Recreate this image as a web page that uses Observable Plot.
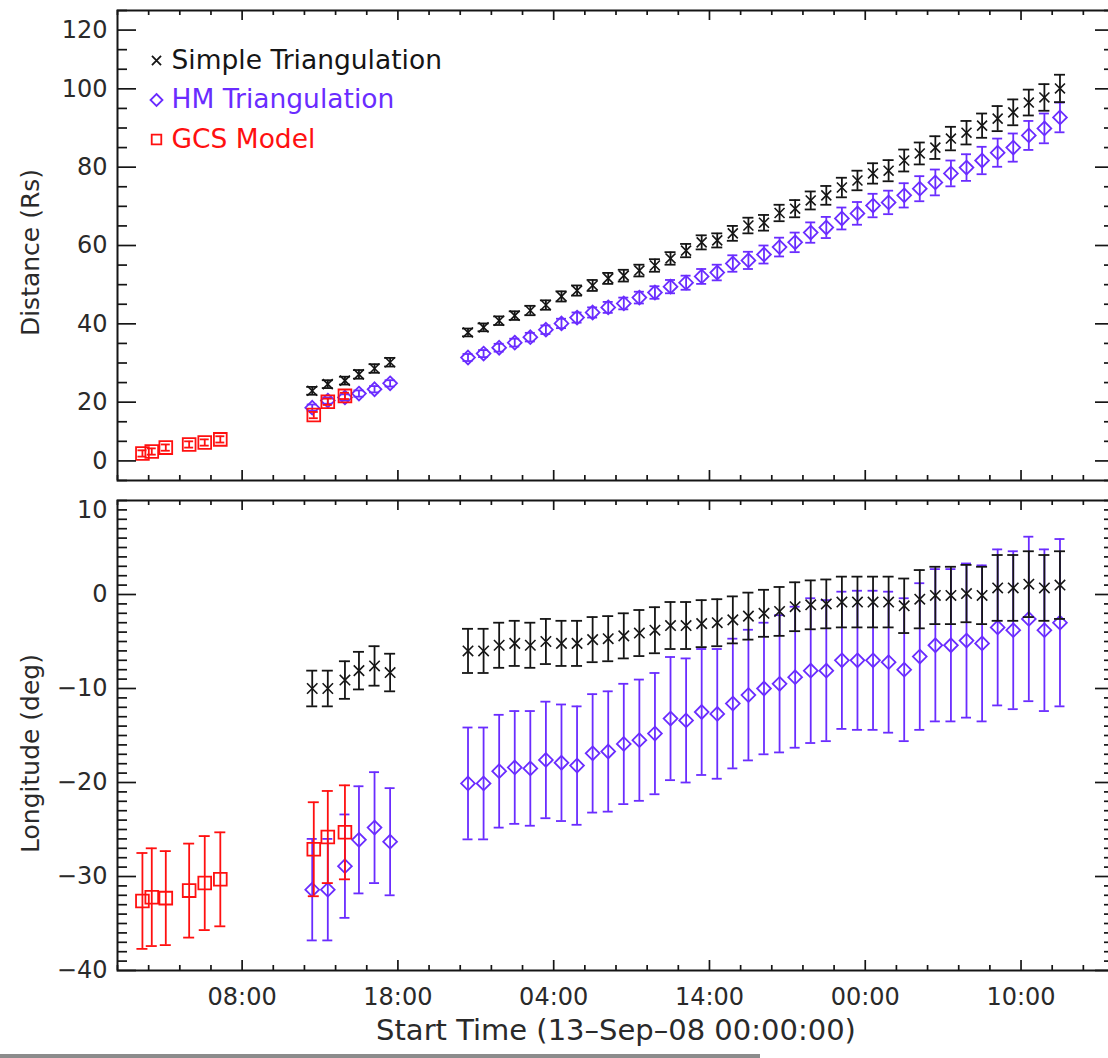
<!DOCTYPE html>
<html>
<head>
<meta charset="utf-8">
<script src="https://cdn.jsdelivr.net/npm/d3@7"></script>
<script src="https://cdn.jsdelivr.net/npm/@observablehq/plot@0.6"></script>
<style>
  html, body { margin: 0; padding: 0; background: #fff; overflow: hidden; width: 1108px; height: 1058px; }
  #chart { position: relative; }
  #chart svg { display: block; }
  #edge { position: absolute; left: 0; top: 1054px; width: 760px; height: 4px; background: #8c8c8c; }
</style>
</head>
<body>
<div id="chart"></div>
<div id="edge"></div>
<script>
// ---------------- DATA (hours after 13-Sep-08 00:00:00) ----------------
const gcsTime    = [1.6, 2.2, 3.1, 4.6, 5.6, 6.6, 12.6, 13.5, 14.6];
const gcsDist    = [6.9, 7.4, 8.4, 9.2, 9.7, 10.5, 16.7, 20.1, 21.6];
const gcsDistErr = [0.8, 0.8, 0.8, 0.8, 0.8, 0.8, 0.8, 0.8, 0.8];
const gcsLon     = [-32.6, -32.2, -32.3, -31.5, -30.7, -30.3, -27.1, -25.8, -25.3];
const gcsLonErr  = [5.1, 5.2, 5.0, 5.0, 5.0, 5.0, 5.0, 4.9, 5.0];

const triTime = [12.5, 13.5, 14.6, 15.5, 16.5, 17.5,
  22.5, 23.5, 24.5, 25.5, 26.5, 27.5, 28.5, 29.5, 30.5, 31.5,
  32.5, 33.5, 34.5, 35.5, 36.5, 37.5, 38.5, 39.5, 40.5, 41.5,
  42.5, 43.5, 44.5, 45.5, 46.5, 47.5, 48.5, 49.5, 50.5, 51.5,
  52.5, 53.5, 54.5, 55.5, 56.5, 57.5, 58.5, 59.5, 60.5];

const simpleDist = [22.9, 24.6, 25.5, 27.1, 28.6, 30.2,
  37.8, 39.1, 40.8, 42.1, 43.4, 44.8, 47.0, 48.5, 49.8, 51.6,
  52.3, 53.6, 54.9, 56.7, 58.7, 60.8, 61.3, 63.1, 65.1, 65.8,
  68.3, 69.4, 71.5, 72.8, 74.8, 76.6, 78.4, 79.1, 81.7, 83.5,
  85.0, 87.3, 88.8, 90.6, 92.4, 94.0, 96.5, 97.8, 100.1];
const simpleDistErr = [1.0, 1.0, 1.0, 1.1, 1.1, 1.1,
  1.0, 1.0, 1.1, 1.1, 1.2, 1.2, 1.3, 1.3, 1.4, 1.4,
  1.5, 1.5, 1.6, 1.6, 1.7, 1.8, 1.8, 1.9, 2.0, 2.0,
  2.1, 2.2, 2.3, 2.4, 2.5, 2.5, 2.6, 2.7, 2.8, 2.8,
  2.9, 3.0, 3.0, 3.1, 3.2, 3.3, 3.3, 3.4, 3.5];

const hmDist = [18.6, 20.4, 21.2, 22.2, 23.3, 24.8,
  31.4, 32.4, 33.9, 35.2, 36.6, 38.5, 40.1, 41.6, 42.9, 44.2,
  45.2, 46.7, 48.0, 49.5, 50.5, 52.1, 53.1, 55.4, 56.2, 57.7,
  59.6, 60.8, 63.3, 64.6, 66.9, 68.2, 70.2, 71.0, 72.8, 74.5,
  76.1, 78.4, 79.9, 81.7, 83.7, 85.0, 88.1, 89.9, 92.7];
const hmDistErr = [0.8, 0.8, 0.8, 0.8, 0.8, 0.8,
  0.9, 0.9, 1.0, 1.0, 1.1, 1.1, 1.2, 1.3, 1.3, 1.4,
  1.5, 1.5, 1.6, 1.7, 1.8, 1.9, 2.0, 2.1, 2.2, 2.3,
  2.4, 2.5, 2.6, 2.7, 2.8, 2.9, 3.0, 3.0, 3.1, 3.2,
  3.3, 3.3, 3.4, 3.5, 3.6, 3.6, 3.7, 3.8, 3.8];

const simpleLon = [-10.0, -10.0, -9.1, -8.1, -7.6, -8.3,
  -6.0, -6.0, -5.4, -5.2, -5.4, -5.0, -5.2, -5.2, -4.8, -4.7,
  -4.4, -4.1, -3.8, -3.3, -3.3, -3.1, -3.0, -2.7, -2.3, -2.0,
  -1.8, -1.3, -1.1, -1.0, -0.8, -0.8, -0.8, -0.8, -1.2, -0.5,
  -0.1, -0.1, 0.1, -0.1, 0.7, 0.7, 1.1, 0.7, 1.0];
const simpleLonErr = [1.9, 1.9, 2.0, 2.0, 2.1, 2.0,
  2.35, 2.35, 2.4, 2.4, 2.4, 2.4, 2.4, 2.4, 2.4, 2.4,
  2.4, 2.45, 2.45, 2.5, 2.5, 2.5, 2.5, 2.5, 2.5, 2.5,
  2.6, 2.6, 2.6, 2.6, 2.7, 2.7, 2.7, 2.7, 2.9, 3.1,
  3.05, 3.05, 3.05, 3.05, 3.5, 3.5, 3.5, 3.5, 3.6];

const hmLon = [-31.4, -31.4, -28.9, -26.1, -24.8, -26.3,
  -20.1, -20.1, -18.8, -18.4, -18.5, -17.6, -17.9, -18.2, -16.9, -16.7,
  -15.9, -15.5, -14.8, -13.2, -13.4, -12.5, -12.7, -11.6, -10.7, -10.0,
  -9.5, -8.8, -8.1, -8.1, -7.0, -7.0, -7.0, -7.2, -8.0, -6.6,
  -5.4, -5.4, -4.9, -5.2, -3.5, -3.8, -2.6, -3.8, -3.0];
const hmLonErr = [5.4, 5.4, 5.5, 5.7, 5.9, 5.7,
  5.95, 5.95, 6.0, 6.0, 6.1, 6.2, 6.2, 6.3, 6.3, 6.4,
  6.4, 6.45, 6.45, 6.55, 6.6, 6.7, 6.9, 6.9, 6.95, 7.0,
  7.3, 7.5, 7.7, 7.5, 7.3, 7.4, 7.4, 7.5, 7.6, 7.8,
  8.1, 8.1, 8.2, 8.3, 8.3, 8.4, 8.75, 8.6, 8.9];

// tick labels
const xTickValues = [8, 18, 28, 38, 48, 58];
const xTickLabels = ["08:00", "18:00", "04:00", "14:00", "00:00", "10:00"];
const distTickValues = [5, 20, 40, 60, 80, 100, 115];
const distTickLabels = ["0", "20", "40", "60", "80", "100", "120"];
const lonTickValues = [9, 0, -10, -20, -30, -40];
const lonTickLabels = ["10", "0", "\u221210", "\u221220", "\u221230", "\u221240"];

const legendLabels = ["Simple Triangulation", "HM Triangulation", "GCS Model"];
const xTitle = "Start Time (13\u2013Sep\u201308 00:00:00)";
const distTitle = "Distance (Rs)";
const lonTitle = "Longitude (deg)";

// ---------------- STYLE / LAYOUT ----------------
const BLACK = "#151515", BLUE = "#6a2cff", RED = "#ff1010";
const TEXT = "#2a2a2a";
const FONT = "DejaVu Sans, sans-serif";
const W = 1108, ML = 117, MR = -6;   // right frame edge falls just outside the picture
const X_DOMAIN = [0, 64];
const KX = (W - ML - MR) / (X_DOMAIN[1] - X_DOMAIN[0]); // px per hour
const X_MINOR = d3.range(0, 65, 2).filter(v => !xTickValues.includes(v));

const gcs = gcsTime.map((t, i) => ({t, d: gcsDist[i], de: gcsDistErr[i], l: gcsLon[i], le: gcsLonErr[i]}));
const tri = triTime.map((t, i) => ({
  t, sd: simpleDist[i], sde: simpleDistErr[i], hd: hmDist[i], hde: hmDistErr[i],
  sl: simpleLon[i], sle: simpleLonErr[i], hl: hmLon[i], hle: hmLonErr[i]
}));

function errbars(data, y, e, color, capPx, sw = 1.8) {
  const c = capPx / KX;
  return [
    Plot.ruleX(data, {x: "t", y1: d => d[y] - d[e], y2: d => d[y] + d[e], stroke: color, strokeWidth: sw}),
    Plot.ruleY(data, {y: d => d[y] - d[e], x1: d => d.t - c, x2: d => d.t + c, stroke: color, strokeWidth: sw}),
    Plot.ruleY(data, {y: d => d[y] + d[e], x1: d => d.t - c, x2: d => d.t + c, stroke: color, strokeWidth: sw})
  ];
}

function frameTicks(yDomain, yMajor, yMinor, ky) {
  const [x0, x1] = X_DOMAIN, [y0, y1] = yDomain;
  const st = {stroke: BLACK, strokeWidth: 1.7};
  return [
    Plot.ruleY(yMajor, {x1: x0, x2: x0 + 19 / KX, ...st}),
    Plot.ruleY(yMajor, {x1: x1 - 19 / KX, x2: x1, ...st}),
    Plot.ruleY(yMinor, {x1: x0, x2: x0 + 10 / KX, ...st}),
    Plot.ruleY(yMinor, {x1: x1 - 10 / KX, x2: x1, ...st}),
    Plot.ruleX(xTickValues, {y1: y0, y2: y0 + 10 / ky, ...st}),
    Plot.ruleX(xTickValues, {y1: y1 - 10 / ky, y2: y1, ...st}),
    Plot.ruleX(X_MINOR, {y1: y0, y2: y0 + 5 / ky, ...st}),
    Plot.ruleX(X_MINOR, {y1: y1 - 5 / ky, y2: y1, ...st}),
    Plot.frame({stroke: BLACK, strokeWidth: 2})
  ];
}

const style = {fontFamily: FONT, fontSize: "21px", color: TEXT, background: "white"};

// ---------------- TOP PANEL: distance ----------------
const topH = 490, topMT = 10, topMB = 10;
const DIST_DOMAIN = [0, 120];
const kyTop = (topH - topMT - topMB) / (DIST_DOMAIN[1] - DIST_DOMAIN[0]);
const distMinor = d3.range(0, 121, 5).filter(v => !distTickValues.includes(v));
const distLabelMap = new Map(distTickValues.map((v, i) => [v, distTickLabels[i]]));

const legendSymbols = ["times", "diamond2", "square"];
const legendColors = [BLACK, BLUE, RED];
const legendR = [4.2, 5.4, 5.4];
const legendMarks = legendLabels.flatMap((lab, i) => [
  Plot.dot([lab], {frameAnchor: "top-left", dx: 39, dy: 50 + 39.5 * i, symbol: legendSymbols[i], r: legendR[i], stroke: legendColors[i], fill: "none", strokeWidth: 1.8}),
  Plot.text([lab], {frameAnchor: "top-left", dx: 54, dy: 50 + 39.5 * i, text: d => d, textAnchor: "start", lineAnchor: "middle", fill: legendColors[i], fontSize: 26.5})
]);

const topChart = Plot.plot({
  width: W, height: topH,
  marginLeft: ML, marginRight: MR, marginTop: topMT, marginBottom: topMB,
  style,
  x: {domain: X_DOMAIN, axis: null},
  y: {domain: DIST_DOMAIN},
  marks: [
    ...errbars(tri, "hd", "hde", BLUE, 5),
    Plot.dot(tri, {x: "t", y: "hd", symbol: "diamond2", r: 6.2, stroke: BLUE, fill: "none", strokeWidth: 1.8}),
    ...errbars(tri, "sd", "sde", BLACK, 5.5),
    Plot.dot(tri, {x: "t", y: "sd", symbol: "times", r: 4.6, stroke: BLACK, strokeWidth: 1.6}),
    ...errbars(gcs, "d", "de", RED, 4.5),
    Plot.dot(gcs, {x: "t", y: "d", symbol: "square", r: 7.2, stroke: RED, fill: "none", strokeWidth: 1.8}),
    ...frameTicks(DIST_DOMAIN, distTickValues, distMinor, kyTop),
    Plot.axisY(distTickValues, {anchor: "left", tickSize: 0, tickPadding: 10, tickFormat: d => distLabelMap.get(d), fontSize: 24, label: null}),
    Plot.text([distTitle], {frameAnchor: "left", dx: -87, dy: 7, rotate: -90, textAnchor: "middle", lineAnchor: "middle", text: d => d, fontSize: 25}),
    ...legendMarks
  ]
});

// ---------------- BOTTOM PANEL: longitude ----------------
const botH = 568, botMT = 10, botMB = 88;
const LON_DOMAIN = [-40, 10];
const kyBot = (botH - botMT - botMB) / (LON_DOMAIN[1] - LON_DOMAIN[0]);
const lonMajor = [0, -10, -20, -30, -40];
const lonMinor = d3.range(-40, 11, 1).filter(v => !lonMajor.includes(v));
const lonLabelMap = new Map(lonTickValues.map((v, i) => [v, lonTickLabels[i]]));
const xLabelMap = new Map(xTickValues.map((v, i) => [v, xTickLabels[i]]));

const bottomChart = Plot.plot({
  width: W, height: botH,
  marginLeft: ML, marginRight: MR, marginTop: botMT, marginBottom: botMB,
  style,
  x: {domain: X_DOMAIN},
  y: {domain: LON_DOMAIN},
  marks: [
    ...errbars(tri, "hl", "hle", BLUE, 5),
    Plot.dot(tri, {x: "t", y: "hl", symbol: "diamond2", r: 6.2, stroke: BLUE, fill: "none", strokeWidth: 1.8}),
    ...errbars(tri, "sl", "sle", BLACK, 5.5),
    Plot.dot(tri, {x: "t", y: "sl", symbol: "times", r: 4.8, stroke: BLACK, strokeWidth: 1.6}),
    ...errbars(gcs, "l", "le", RED, 5.5),
    Plot.dot(gcs, {x: "t", y: "l", symbol: "square", r: 7.2, stroke: RED, fill: "none", strokeWidth: 1.8}),
    ...frameTicks(LON_DOMAIN, lonMajor, lonMinor, kyBot),
    Plot.axisY(lonTickValues, {anchor: "left", tickSize: 0, tickPadding: 10, tickFormat: d => lonLabelMap.get(d), fontSize: 24, label: null}),
    Plot.axisX(xTickValues, {anchor: "bottom", tickSize: 0, tickPadding: 17, tickFormat: d => xLabelMap.get(d), fontSize: 24, label: null}),
    Plot.text([lonTitle], {frameAnchor: "left", dx: -87, dy: 18, rotate: -90, textAnchor: "middle", lineAnchor: "middle", text: d => d, fontSize: 25}),
    Plot.text([xTitle], {frameAnchor: "bottom", dy: 60, text: d => d, lineAnchor: "middle", fontSize: 29})
  ]
});

const chart = document.getElementById("chart");
chart.append(topChart, bottomChart);
</script>
</body>
</html>
